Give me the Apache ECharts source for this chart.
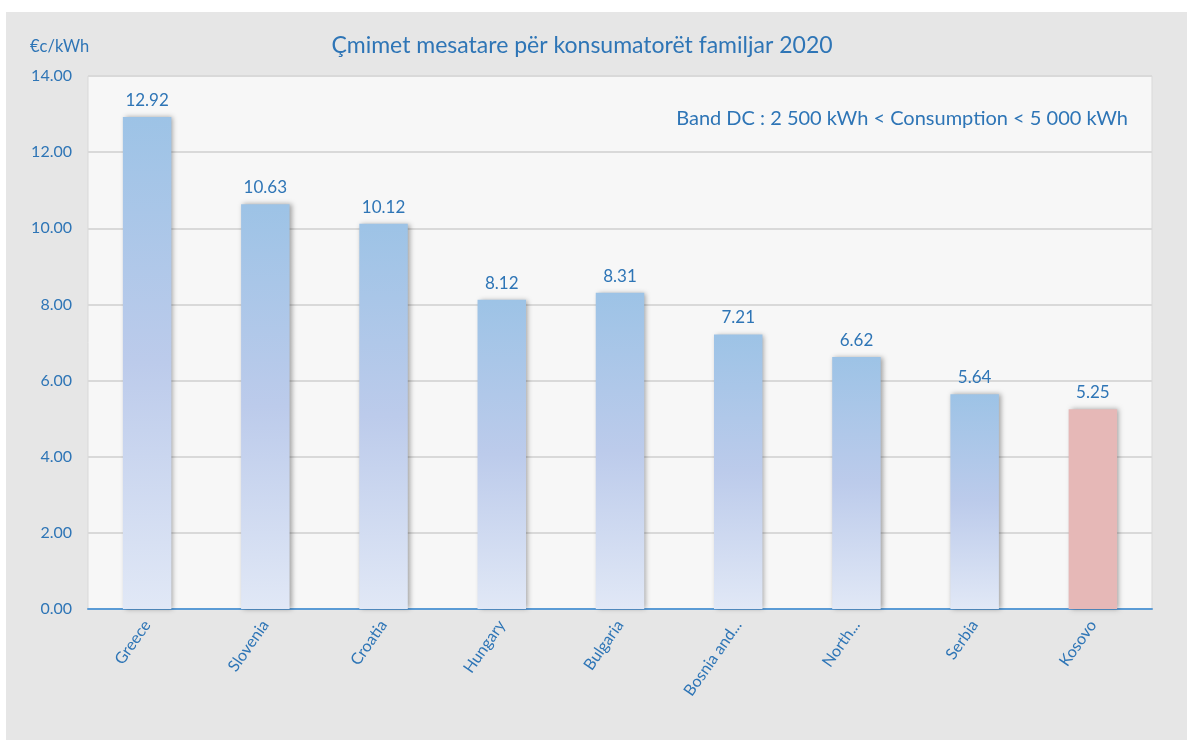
<!DOCTYPE html>
<html><head><meta charset="utf-8">
<style>html,body{margin:0;padding:0;background:#fff}#c{width:1187px;height:740px}</style>
<script src="https://cdn.jsdelivr.net/npm/echarts@6/dist/echarts.min.js"></script>
</head><body><div id="c"></div>
<script>
const categories = ['Greece','Slovenia','Croatia','Hungary','Bulgaria','Bosnia and...','North...','Serbia','Kosovo'];
const values = [12.92,10.63,10.12,8.12,8.31,7.21,6.62,5.64,5.25];
const highlight = 'Kosovo';
const titleText = 'Çmimet mesatare për konsumatorët familjar 2020';
const unitText = '€c/kWh';
const bandText = 'Band DC : 2 500 kWh < Consumption < 5 000 kWh';

const FONT = 'Lato';
const blue = '#2e75b6';
const chart = echarts.init(document.getElementById('c'));
const blueGrad = new echarts.graphic.LinearGradient(0,0,0,1,[{offset:0,color:'#9dc3e6'},{offset:0.5,color:'#bccbeb'},{offset:1,color:'#e1e8f6'}]);
chart.setOption({
  backgroundColor:'#ffffff',
  animation:false,
  graphic:[{type:'rect',shape:{x:6,y:12,width:1200,height:760},style:{fill:'#e6e6e6'},z:-10}],
  title:[
    {text:titleText,left:577,top:29,textAlign:'center',textStyle:{color:blue,fontFamily:FONT,fontSize:23,fontWeight:'normal'}},
    {text:unitText,left:25,top:33,textStyle:{color:blue,fontFamily:FONT,fontSize:16.5,fontWeight:'normal'}},
    {text:bandText,right:54,top:104,textStyle:{color:blue,fontFamily:FONT,fontSize:20,fontWeight:'normal'}}
  ],
  grid:{left:88,top:76,width:1064,height:533,show:true,backgroundColor:'#f7f7f7',borderColor:'#d9d9d9',borderWidth:1},
  xAxis:{type:'category',data:categories,
    axisLine:{lineStyle:{color:'#5b9bd5',width:2}},axisTick:{show:false},
    axisLabel:{rotate:55,color:blue,fontFamily:FONT,fontSize:16,margin:13,interval:0}},
  yAxis:{type:'value',min:0,max:14,interval:2,
    axisLine:{show:false},axisTick:{show:false},
    splitLine:{lineStyle:{color:'#d9d9d9',width:2}},
    axisLabel:{formatter:v=>v.toFixed(2),color:blue,fontFamily:FONT,fontSize:16,margin:16}},
  series:[{type:'bar',barWidth:'41%',
    data:values.map((v,i)=>({value:v,itemStyle:{color:categories[i]===highlight?'#e6b8b7':blueGrad}})),
    itemStyle:{shadowBlur:5,shadowOffsetX:2,shadowOffsetY:0,shadowColor:'rgba(0,0,0,0.35)'},
    label:{show:true,position:'top',distance:8,formatter:p=>p.value.toFixed(2),color:blue,fontFamily:FONT,fontSize:17}
  }]
});
</script></body></html>
